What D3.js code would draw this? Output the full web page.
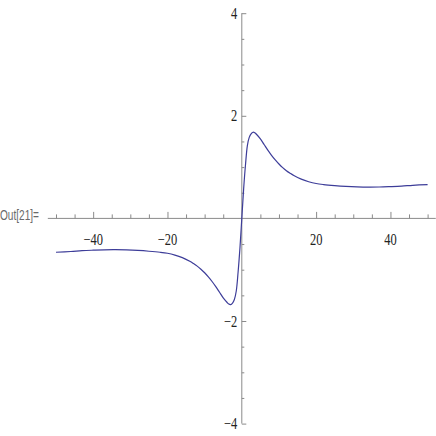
<!DOCTYPE html>
<html>
<head>
<meta charset="utf-8">
<script src="https://cdn.jsdelivr.net/npm/d3@7"></script>
<style>
  html, body { margin: 0; padding: 0; background: #fff; }
  svg { display: block; }
</style>
</head>
<body>
<svg class="plot" width="436" height="436"></svg>
<script>
// curve samples
const xs = [-50, -46, -43, -40, -37, -34, -31, -28, -25, -22, -20, -18, -16, -14, -13, -12, -11, -10, -9, -8, -7, -6, -5, -4, -3.5, -3, -2.5, -2, -1.5, -1, -0.5,
            0, 0.5, 1, 1.5, 2, 2.5, 3, 3.5, 4, 5, 6, 7, 8, 9, 10, 11, 12, 13, 14, 16, 18, 20, 22, 25, 28, 31, 34, 37, 40, 43, 46, 50];
const ys = [-0.66, -0.645, -0.63, -0.62, -0.612, -0.61, -0.615, -0.625, -0.64, -0.66, -0.68, -0.715, -0.765, -0.835, -0.88, -0.93, -0.99, -1.06, -1.14, -1.23, -1.33, -1.44, -1.55, -1.635, -1.67, -1.68, -1.65, -1.58, -1.42, -1.05, -0.58,
            0, 0.58, 1.05, 1.42, 1.58, 1.65, 1.68, 1.67, 1.635, 1.55, 1.44, 1.33, 1.23, 1.14, 1.06, 0.99, 0.93, 0.88, 0.835, 0.765, 0.715, 0.68, 0.66, 0.64, 0.625, 0.615, 0.61, 0.612, 0.62, 0.63, 0.645, 0.66];

const xMajor = [-40, -20, 20, 40];
const xMinor = [-50, -45, -35, -30, -25, -15, -10, -5, 5, 10, 15, 25, 30, 35, 45, 50];
const yMajor = [-4, -2, 2, 4];
const yMinor = [-3.5, -3, -2.5, -1.5, -1, -0.5, 0.5, 1, 1.5, 2.5, 3, 3.5];

const svg = d3.select(".plot");

const x = d3.scaleLinear().domain([-50, 50]).range([56, 427.6]);
const y = d3.scaleLinear().domain([-4, 4]).range([423.6, 13.2]);

const axisColor = "#8a8a8a";
const fmt = d3.format("");

// x axis line (a little past the plot range, like Mathematica)
svg.append("line")
    .attr("x1", x(-52.2)).attr("x2", x(52.2))
    .attr("y1", y(0)).attr("y2", y(0))
    .style("stroke", axisColor).style("stroke-width", 1);

// y axis line
svg.append("line")
    .attr("x1", x(0)).attr("x2", x(0))
    .attr("y1", y(4)).attr("y2", y(-4))
    .style("stroke", axisColor).style("stroke-width", 1);

// x ticks point up
const gx = svg.append("g").attr("transform", `translate(0,${y(0)})`);
gx.call(d3.axisTop(x).tickValues(xMinor).tickSize(4).tickSizeOuter(0).tickFormat(""));
const gx2 = svg.append("g").attr("transform", `translate(0,${y(0)})`);
gx2.call(d3.axisTop(x).tickValues(xMajor).tickSize(6.5).tickSizeOuter(0).tickFormat(""));

// y ticks point right
const gy = svg.append("g").attr("transform", `translate(${x(0)},0)`);
gy.call(d3.axisRight(y).tickValues(yMinor).tickSize(2.5).tickSizeOuter(0).tickFormat(""));
const gy2 = svg.append("g").attr("transform", `translate(${x(0)},0)`);
gy2.call(d3.axisRight(y).tickValues(yMajor).tickSize(4.5).tickSizeOuter(0).tickFormat(""));

svg.selectAll(".domain").remove();
svg.selectAll(".tick line").style("stroke", axisColor).style("stroke-width", 1);

// tick labels, narrow serif
svg.selectAll(".xlab")
    .data(xMajor)
    .enter().append("text")
    .attr("transform", d => `translate(${x(d)},245) scale(0.78,1)`)
    .attr("text-anchor", "middle")
    .style("font-family", "'Liberation Serif', 'DejaVu Serif', serif")
    .style("font-size", "16px")
    .style("fill", "#222")
    .text(d => fmt(d));

svg.selectAll(".ylab")
    .data(yMajor)
    .enter().append("text")
    .attr("transform", d => `translate(${x(0) - 4.5},${y(d) + 5.5}) scale(0.78,1)`)
    .attr("text-anchor", "end")
    .style("font-family", "'Liberation Serif', 'DejaVu Serif', serif")
    .style("font-size", "16px")
    .style("fill", "#222")
    .text(d => fmt(d));

// the curve
const pts = xs.map((v, i) => [v, ys[i]]);
svg.append("path")
    .datum(pts)
    .attr("d", d3.line().x(d => x(d[0])).y(d => y(d[1])).curve(d3.curveCatmullRom.alpha(0.5)))
    .style("fill", "none")
    .style("stroke", "#3d3d99")
    .style("stroke-width", 1.2);

// cell label
svg.append("text")
    .attr("x", 0)
    .attr("y", 220)
    .attr("textLength", 39)
    .attr("lengthAdjust", "spacingAndGlyphs")
    .style("font-family", "'Liberation Sans', Arial, sans-serif")
    .style("font-size", "14px")
    .style("fill", "#6a6a6a")
    .text("Out[21]=");
</script>
</body>
</html>
